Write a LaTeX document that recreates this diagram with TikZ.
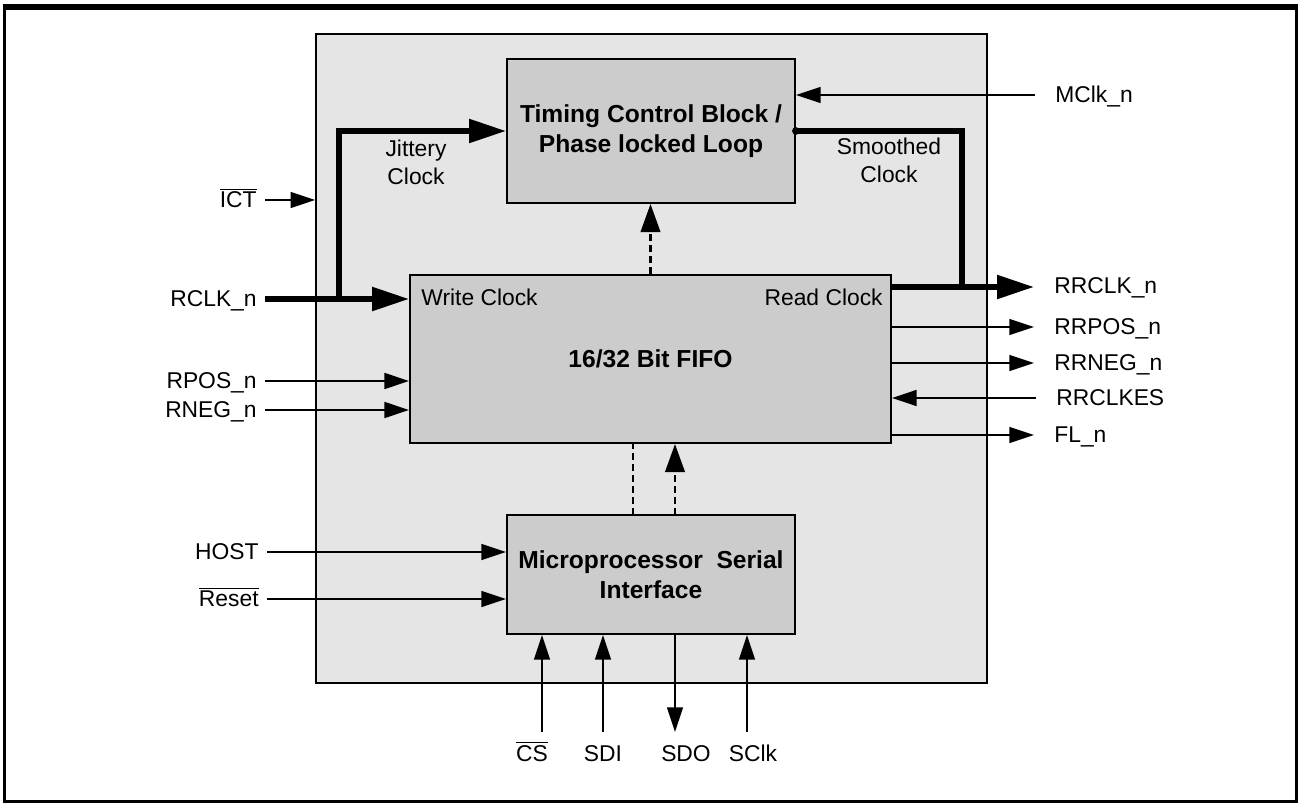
\documentclass[tikz,border=0pt]{standalone}
\usepackage{fontspec}
\setmainfont{Liberation Sans}
\usetikzlibrary{arrows, arrows.meta, positioning, calc}

\tikzset{
	chip/.style={draw, line width=1.1pt, fill=black!10, inner sep=0pt},
	block/.style={draw, line width=1.1pt, fill=black!20, inner sep=0pt, align=center,
		font=\fontsize{14}{17}\selectfont\bfseries},
	pinl/.style={inner ysep=0pt, inner xsep=0.16cm, text height=9pt, text depth=0pt, anchor=east,
		font=\fontsize{13}{15}\selectfont},
	pinr/.style={inner ysep=0pt, inner xsep=0.4cm, text height=9pt, text depth=0pt, anchor=west,
		font=\fontsize{13}{15}\selectfont},
	pinb/.style={inner sep=0pt, anchor=base, font=\fontsize{13}{15}\selectfont},
	tag/.style={inner sep=0pt, align=center, font=\fontsize{13}{16}\selectfont},
	sig/.style={line width=1.1pt, -{Triangle[length=14pt,width=9pt]}},
	bigsig/.style={line width=3.2pt, -{Triangle[length=21pt,width=13pt]}},
	bigline/.style={line width=3.2pt},
	ctl/.style={line width=1.7pt, dash pattern=on 0.14cm off 0.08cm},
	ctlarrow/.style={ctl, -{Triangle[length=16pt,width=11pt]}}
}

\begin{document}
\begin{tikzpicture}[x=0.02cm, y=-0.02cm]
	\useasboundingbox (0,0) rectangle (1299,804);
	
	%frame
	\draw[line width=1.7pt] (4.5,7) rectangle (1296.5,801.5);
	\draw[line width=3.4pt] (3,7) -- (1298,7);
	
	%blocks
	\node[chip, minimum width=13.42cm, minimum height=12.98cm] (chip) at (651.5,358.5) {};
	\node[block, minimum width=5.76cm, minimum height=2.88cm] (timing) at (651,131) {Timing Control Block /\\Phase locked Loop};
	\node[block, minimum width=9.62cm, minimum height=3.36cm] (fifo) at (650.5,359) {16/32 Bit FIFO};
	\node[block, minimum width=5.76cm, minimum height=2.38cm] (micro) at (651,574.5) {Microprocessor\ \ Serial\\Interface};
	
	%labels inside
	\node[tag, anchor=west] (wclk) at (421,297) {Write Clock};
	\node[tag, anchor=east] (rdclk) at (883,297) {Read Clock};
	\node[tag] (jitter) at (416,162) {Jittery\\Clock};
	\node[tag] (smooth) at (889,160) {Smoothed\\Clock};
	
	%pins left
	\node[pinl] (ict) at (265,200) {$\overline{\mbox{ICT}}$};
	\node[pinl] (rclk) at (265,299) {RCLK\_n};
	\node[pinl] (rpos) at (265,381) {RPOS\_n};
	\node[pinl] (rneg) at (265,410) {RNEG\_n};
	\node[pinl] (host) at (267,552) {HOST};
	\node[pinl] (reset) at (267,599) {$\overline{\mbox{Reset}}$};
	
	%pins right
	\node[pinr] (mclk) at (1035,95) {MClk\_n};
	\node[pinr] (rrclk) at (1034,286) {RRCLK\_n};
	\node[pinr] (rrpos) at (1034,327) {RRPOS\_n};
	\node[pinr] (rrneg) at (1034,363) {RRNEG\_n};
	\node[pinr] (rrclkes) at (1036,398) {RRCLKES};
	\node[pinr] (fl) at (1034,435) {FL\_n};
	
	%pins bottom
	\node[pinb] (cs) at (532,761) {$\overline{\mbox{CS}}$};
	\node[pinb] (sdi) at (603,761) {SDI};
	\node[pinb] (sdo) at (686,761) {SDO};
	\node[pinb] (sclk) at (753,761) {SClk};
	\coordinate (csend) at (542,732);
	\coordinate (sdiend) at (603,732);
	\coordinate (sdoend) at (675,732);
	\coordinate (sclkend) at (747,732);
	
	%clock paths
	\coordinate (jtap) at (339,299);
	\coordinate (stap) at (962,287);
	\draw[bigsig] (rclk.east) -- (rclk.east -| fifo.west);
	\draw[bigsig] (jtap) |- (timing.west);
	\draw[bigline] (timing.east) -| (stap);
	\fill (timing.east) circle[radius=2.2pt];
	\draw[bigsig] (stap -| fifo.east) -- (stap -| rrclk.west);
	
	%signals
	\draw[sig] (ict.east) -- (ict.east -| chip.west);
	\draw[sig] (mclk.west) -- (mclk.west -| timing.east);
	\draw[sig] (rpos.east) -- (rpos.east -| fifo.west);
	\draw[sig] (rneg.east) -- (rneg.east -| fifo.west);
	\draw[sig] (host.east) -- (host.east -| micro.west);
	\draw[sig] (reset.east) -- (reset.east -| micro.west);
	\draw[sig] (rrpos.west -| fifo.east) -- (rrpos.west);
	\draw[sig] (rrneg.west -| fifo.east) -- (rrneg.west);
	\draw[sig] (rrclkes.west) -- (rrclkes.west -| fifo.east);
	\draw[sig] (fl.west -| fifo.east) -- (fl.west);
	\draw[sig] (csend) -- (csend |- micro.south);
	\draw[sig] (sdiend) -- (sdiend |- micro.south);
	\draw[sig] (sdoend |- micro.south) -- (sdoend);
	\draw[sig] (sclkend) -- (sclkend |- micro.south);
	
	%control
	\coordinate (mp1) at (633,515);
	\coordinate (mp2) at (675,515);
	\draw[ctlarrow] (fifo.north) -- (fifo.north |- timing.south);
	\draw[ctl] (mp1) -- (mp1 |- fifo.south);
	\draw[ctlarrow] (mp2) -- (mp2 |- fifo.south);
\end{tikzpicture}
\end{document}
